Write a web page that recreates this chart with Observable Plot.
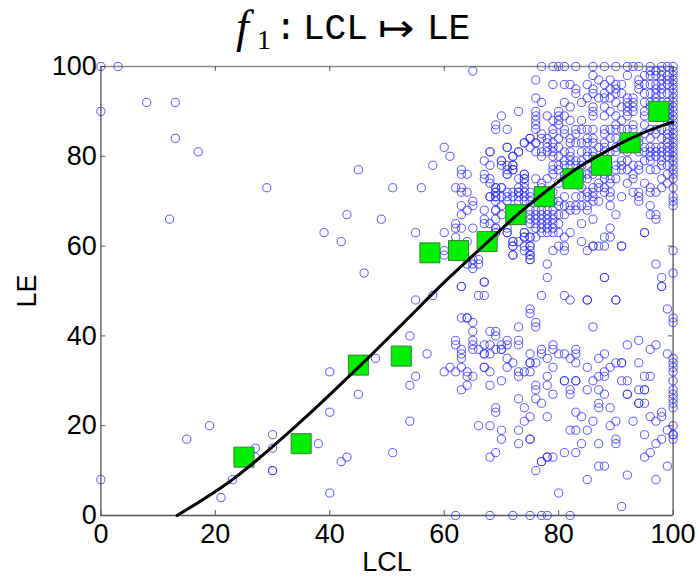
<!DOCTYPE html>
<html><head><meta charset="utf-8">
<script src="https://cdn.jsdelivr.net/npm/d3@7"></script>
<script src="https://cdn.jsdelivr.net/npm/@observablehq/plot@0.6"></script>
<style>
html,body{margin:0;padding:0;background:#fff;overflow:hidden}
#title{height:50px;width:698px;position:relative;color:#000;white-space:nowrap}
#title span{position:absolute;line-height:40px;top:10px}
#title .f{font-family:"Liberation Serif",serif;font-style:italic;font-size:46px;left:236px;top:7px}
#title .s{font-family:"Liberation Serif",serif;font-size:28px;left:257px;top:20px}
#title .t{font-family:"Liberation Mono",monospace;font-size:36px;-webkit-text-stroke:.2px #000}
#title .m{font-family:"DejaVu Sans",sans-serif;font-size:38px;left:378px;top:8px;transform:scaleX(1.15);transform-origin:left}
svg{display:block}
</style></head><body>
<div id="title"><span class="f">f</span><span class="s">1</span><span class="t" style="left:275px">:</span><span class="t" style="left:303px">LCL</span><span class="m">↦</span><span class="t" style="left:427px">LE</span></div>
<div id="chart"></div>
<script>
const tickValues = [0, 20, 40, 60, 80, 100];
const binLCL = [25, 35, 45, 52.5, 57.5, 62.5, 67.5, 72.5, 77.5, 82.5, 87.5, 92.5, 97.5];
const binLE = [13, 16, 33.5, 35.5, 58.5, 59, 61, 67, 71, 75, 78, 83, 90];
const fitLCL = [13.3, 23.2, 35, 45, 52.4, 60.3, 67.5, 72.6, 77.6, 82.6, 87.6, 92.6, 98.4, 100];
const fitLE = [0, 8.2, 21, 33, 42.3, 52.3, 60.8, 66.8, 72, 76.8, 80.6, 84, 87, 87.6];

const sparsePoints = [[0,100],[3,100],[0,90],[8,92],[13,92],[13,84],[17,81],[12,66],[29,73],[39,63],[42,61],[43,67],[0,8],[15,17],[19,20],[21,4],[23,8],[27,15],[27,13],[30,18],[30,15],[30,10],[30,10],[38,16],[40,23],[40,32],[40,5],[42,12],[43,13],[45,27],[48,35],[51,14],[54,21],[54,29],[54,40],[55,31],[55,48],[58,49],[57,36],[60,32],[61,33],[45,77],[51,73],[49,66],[46,54],[56,73],[55,63],[60,82],[61,80],[58,78],[65,99],[60,63],[60,59],[60,58]];

const midLeftPoints = [[62,73],[63,73],[63,72],[64,72],[63,69],[65,70],[65,69],[64,68],[63,67],[62,65],[62,64],[63,64],[62,62],[65,64],[67,68],[67,66],[67,65],[68,65],[68,71],[63,76],[64,76],[63,77],[67,76],[67,75],[68,74],[64,61],[66,57],[65,57],[65,56],[64,56],[66,56],[65,55],[67,52],[63,51],[66,49],[67,49],[67,79],[68,81],[68,78],[70,79],[70,78],[71,82],[72,80],[71,78],[72,78],[72,77],[73,81],[74,83],[75,84],[76,83],[74,76],[74,75],[73,75],[71,76],[68,75],[69,73],[69,72],[70,73],[68,71],[69,71],[70,71],[71,72],[71,71],[72,72],[72,71],[73,73],[73,72],[74,73],[69,68],[69,66],[71,64],[70,69],[71,63],[72,61],[72,60],[72,58],[74,59],[75,60],[75,58],[75,57],[74,63],[74,62],[75,62],[73,61],[76,62],[68,62],[69,64],[69,63]];

const topMidPoints = [[77,100],[79,100],[80,100],[81,100],[83,100],[76,97],[79,96],[81,96],[82,96],[83,95],[83,94],[85,96],[76,93],[77,92],[81,92],[84,92],[85,93],[82,91],[73,90],[70,89],[76,90],[76,89],[76,88],[76,87],[76,86],[78,89],[80,90],[80,89],[81,89],[79,88],[80,88],[82,88],[84,88],[69,87],[69,86],[71,86],[80,87],[79,86],[81,86],[83,86],[84,86],[77,85],[79,85],[81,85],[83,85],[85,86],[75,84],[74,83],[76,83],[77,84],[78,84],[80,84],[82,84],[78,83],[79,83],[82,83],[84,83],[71,82],[75,82],[78,82],[79,82],[80,82],[83,83],[68,81],[73,81],[76,81],[77,81],[78,81],[79,81],[81,81],[82,81],[84,81],[72,80],[77,80],[79,80],[80,80],[82,80],[70,79]];

const topRightPoints = [[86,100],[88,100],[90,100],[92,100],[93,100],[94,100],[96,100],[98,100],[92,98],[94,97],[94,96],[88,96],[90,96],[91,96],[94,95],[96,96],[97,96],[98,97],[98,98],[98,95],[97,95],[86,95],[90,95],[86,94],[88,94],[90,94],[91,94],[93,93],[95,94],[96,94],[97,94],[98,94],[88,93],[89,93],[92,93],[93,92],[92,92],[90,92],[86,91],[88,91],[91,91],[92,91],[93,91],[95,92],[86,90],[89,90],[92,90],[93,90],[95,90],[90,89],[92,89],[86,89],[88,89],[91,88],[95,89],[90,87],[93,87],[95,87],[88,86],[89,86],[90,86],[91,86],[86,86],[92,86],[93,86],[96,86],[97,86],[98,86],[95,85],[97,85],[86,84],[88,85],[89,84],[90,84],[96,84],[98,84],[88,83],[86,83],[91,79],[92,79],[96,79],[98,78],[93,78],[91,78],[90,78],[94,78],[96,77],[97,77],[91,77],[92,77],[94,77],[90,77],[93,76],[93,75],[90,75],[98,75],[92,74],[95,74],[98,73],[96,73],[96,72],[97,72],[93,72],[94,72],[91,71],[94,71],[94,70],[89,71],[89,72],[88,73],[88,72],[87,70],[86,73],[86,72],[86,71],[86,70],[89,69],[96,69],[90,67],[96,67],[97,67],[97,66],[86,66],[89,64],[95,63],[88,62],[89,62],[86,60],[87,60],[88,60],[91,60],[97,56],[98,53],[98,51],[88,53]];

const denseExtraPoints = [[85,84],[85,83],[85,81],[86,81],[86,80],[87,82],[88,82],[88,81],[89,81],[90,82],[90,81],[91,83],[91,82],[92,83],[92,82],[92,81],[93,82],[93,84],[94,84],[94,83],[94,81],[95,82],[95,81],[96,82],[96,81],[97,82],[97,81],[97,80],[98,82],[98,81],[98,80],[98,79],[96,80],[95,79],[88,78],[87,77],[86,77],[86,76],[88,76],[88,75],[89,75],[89,74],[87,74],[87,73],[84,75],[84,76],[85,76],[83,79],[84,79],[85,80],[82,79],[81,79],[80,78],[79,77],[87,97],[89,97],[95,96],[95,98],[96,98],[97,98],[97,99],[96,99],[98,99],[98,96],[97,93],[98,92],[97,92],[96,92],[96,91],[86,98],[89,95],[87,93]];

const corePoints = [[72,78],[71,77],[72,77],[71,76],[74,76],[74,75],[76,75],[74,74],[69,73],[69,72],[69,71],[70,73],[73,72],[74,72],[75,72],[69,70],[73,71],[74,71],[75,71],[73,70],[74,70],[75,70],[71,70],[69,68],[70,67],[75,68],[76,68],[77,68],[78,68],[79,68],[80,69],[81,69],[82,69],[83,69],[84,69],[85,69],[80,67],[82,68],[85,68],[83,68],[81,67],[75,67],[76,67],[77,67],[78,67],[79,67],[82,63],[84,65],[75,66],[76,66],[77,66],[78,66],[79,66],[80,65],[75,65],[76,65],[77,65],[78,65],[79,65],[76,64],[77,64],[78,64],[79,64],[77,63],[78,63],[79,63],[80,63],[81,62],[74,63],[74,62],[75,62],[72,61],[72,60],[74,60],[75,60],[80,60],[81,60],[84,61],[69,64],[69,63],[71,63],[68,62],[78,56],[78,53],[72,58],[75,59],[75,58],[75,57],[67,52],[63,51],[88,53],[79,59],[81,59],[85,59],[86,60],[91,60],[95,63],[77,73],[78,72],[79,72],[80,74],[81,75],[82,75],[83,74],[84,73],[85,72],[79,70],[80,70],[81,71],[83,71],[84,71],[85,71],[77,74],[78,75],[79,76],[80,77],[81,78],[82,78],[83,78],[84,78],[85,78],[79,78],[81,76],[83,76],[85,75]];

const lowerLeftPoints = [[62,39],[62,38],[63,37],[63,36],[63,35],[63,33],[64,32],[64,31],[65,31],[64,29],[63,28],[64,44],[64,44],[65,43],[65,41],[65,39],[65,38],[65,37],[66,37],[67,38],[67,36],[67,36],[68,41],[68,38],[68,36],[69,41],[69,40],[69,37],[70,38],[70,37],[70,37],[71,39],[71,38],[71,35],[71,33],[72,34],[67,33],[67,33],[68,32],[68,29],[70,30],[73,42],[73,39],[73,38],[75,46],[75,45],[76,43],[76,42],[75,36],[75,34],[75,34],[76,34],[73,32],[73,31],[74,32],[75,32],[76,29],[76,28],[73,26],[76,26],[77,25],[74,24],[69,24],[69,23],[75,22],[74,21],[66,20],[68,20],[70,19],[73,19],[70,17],[75,17],[75,17],[73,16],[69,14],[68,13],[78,13],[77,12],[76,10],[78,22],[77,37],[77,36],[78,35],[78,31],[78,29],[62,0],[68,0],[72,0],[75,0],[77,0],[78,0],[82,0],[62,32],[63,44]];

const lowerRightPoints = [[77,49],[81,49],[82,48],[85,48],[85,48],[90,48],[90,48],[98,51],[99,46],[86,42],[94,39],[97,38],[92,38],[96,37],[79,38],[79,37],[80,36],[81,36],[83,37],[83,36],[82,35],[83,34],[87,35],[88,36],[90,34],[91,34],[91,34],[94,34],[99,36],[79,33],[85,33],[89,33],[88,32],[87,31],[88,31],[86,30],[95,31],[96,31],[91,30],[92,30],[81,30],[81,30],[83,30],[83,30],[82,28],[82,27],[85,28],[87,28],[88,27],[94,28],[95,28],[95,28],[92,27],[92,27],[79,27],[94,25],[94,25],[95,25],[87,25],[87,24],[89,24],[83,23],[84,22],[98,23],[98,22],[96,22],[97,21],[93,21],[90,21],[86,21],[89,20],[99,19],[82,19],[83,19],[85,19],[95,18],[98,17],[90,17],[90,16],[97,16],[87,16],[84,16],[96,14],[95,13],[81,14],[83,14],[79,13],[78,13],[77,12],[87,11],[88,11],[99,11],[92,9],[85,8],[97,8],[80,5],[91,2]];

const edgeLE100 = [100,99,98,97,96,95,94,93,92,91,90,89,88,87,86,85,84,83,82,81,80,79,78,77,76,75,73,71,70,69,59,54,44,43,35,34,33,32,30,28,27,26,25,24,20,18,18,17];
const edgeLE99 = [100,98,97,96,94,92,91,90,89,88,86,85,84,83,82,81,80,78,76,74];

const points = [...sparsePoints, ...midLeftPoints, ...topMidPoints, ...topRightPoints, ...denseExtraPoints, ...corePoints, ...lowerLeftPoints, ...lowerRightPoints,
  ...edgeLE100.map(v => [100, v]), ...edgeLE99.map(v => [99, v])];
const bins = binLCL.map((x, i) => [x, binLE[i]]);
const fit = fitLCL.map((x, i) => [x, fitLE[i]]);

const sans = '"Liberation Sans", Arial, sans-serif';
const chart = Plot.plot({
  width: 698, height: 527,
  marginTop: 16, marginBottom: 62, marginLeft: 100.4, marginRight: 25.4,
  style: {fontFamily: sans, background: "#fff", overflow: "visible"},
  x: {domain: [0, 100], label: "LCL"},
  y: {domain: [0, 100], label: "LE"},
  marks: [
    Plot.ruleX([100], {stroke: "#555", strokeWidth: 1.3}),
    Plot.ruleX([0], {stroke: "#555", strokeWidth: 1.3}),
    Plot.ruleY([100], {stroke: "#8a8a8a", strokeWidth: 1.6}),
    Plot.ruleY([0], {stroke: "#555", strokeWidth: 1.6}),
    Plot.ruleX(tickValues, {y1: 0, y2: 1.1, stroke: "#555"}),
    Plot.ruleX(tickValues, {y1: 98.9, y2: 100, stroke: "#555"}),
    Plot.ruleY(tickValues, {x1: 0, x2: 0.87, stroke: "#555"}),
    Plot.ruleY(tickValues, {x1: 99.13, x2: 100, stroke: "#555"}),
    Plot.axisX({anchor: "bottom", ticks: tickValues, tickSize: 0, tickPadding: 8, fontSize: 27,
      fill: "#000", label: "LCL", labelAnchor: "center", labelArrow: "none", labelOffset: 55}),
    Plot.axisY({anchor: "left", ticks: tickValues, tickSize: 0, tickPadding: 4, fontSize: 27,
      fill: "#000", label: "LE", labelAnchor: "center", labelArrow: "none", labelOffset: 84}),
    Plot.dot(points, {x: d => d[0], y: d => d[1], r: 4.1, stroke: "#2a2aff", strokeOpacity: 0.78, strokeWidth: 1, fill: "none", clip: false}),
    Plot.dot(bins, {x: d => d[0], y: d => d[1], symbol: "square", r: 11.3, fill: "#00ee00", stroke: "#3c7d3c", strokeWidth: 1}),
    Plot.line(fit, {x: d => d[0], y: d => d[1], curve: "catmull-rom", stroke: "#000", strokeWidth: 3})
  ]
});
document.getElementById("chart").append(chart);
</script>
</body></html>
